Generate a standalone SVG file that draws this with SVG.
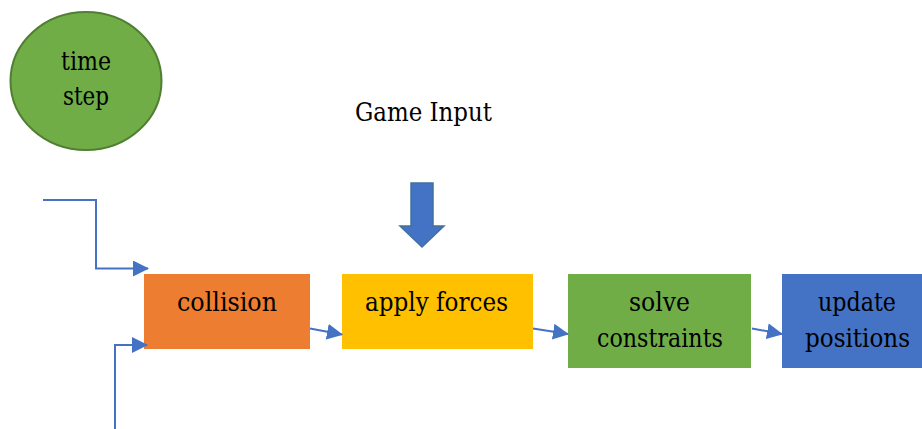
<svg xmlns="http://www.w3.org/2000/svg" width="922" height="429" viewBox="0 0 922 429">
<style>
text{font-family:'DejaVu Serif',serif;font-size:26px;fill:#000;text-anchor:middle}
.c{fill:none;stroke:#4472C4;stroke-width:2}
</style>
<defs>
<marker id="ah" markerWidth="8" markerHeight="8" refX="7.5" refY="4" orient="auto" markerUnits="strokeWidth">
<path d="M0,0 L8,4 L0,8 z" fill="#4472C4"/>
</marker>
</defs>
<rect width="922" height="429" fill="#fff"/>
<g id="time-step">
<ellipse cx="86" cy="81" rx="75.5" ry="69" fill="#70AD47" stroke="#507E32" stroke-width="2"/>
<text x="86" y="70" textLength="50" lengthAdjust="spacingAndGlyphs">time</text>
<text x="86" y="105" textLength="46" lengthAdjust="spacingAndGlyphs">step</text>
</g>
<g id="game-input">
<text x="423.5" y="121" textLength="137" lengthAdjust="spacingAndGlyphs">Game Input</text>
</g>
<g id="input-arrow">
<path d="M411,183 L433,183 L433,226 L444,226 L422,247 L400,226 L411,226 Z" fill="#4472C4" stroke="#41719C" stroke-width="1.5"/>
</g>
<g id="collision">
<rect x="144" y="274" width="166" height="75" fill="#ED7D31"/>
<text x="227" y="311" textLength="100" lengthAdjust="spacingAndGlyphs">collision</text>
</g>
<g id="apply-forces">
<rect x="342" y="274" width="191" height="75" fill="#FFC000"/>
<text x="436.5" y="311" textLength="143" lengthAdjust="spacingAndGlyphs">apply forces</text>
</g>
<g id="solve-constraints">
<rect x="568" y="274" width="183" height="94" fill="#70AD47"/>
<text x="659.5" y="311" textLength="61" lengthAdjust="spacingAndGlyphs">solve</text>
<text x="660" y="347" textLength="126" lengthAdjust="spacingAndGlyphs">constraints</text>
</g>
<g id="update-positions">
<rect x="782" y="274" width="151" height="94" fill="#4472C4"/>
<text x="857" y="311" textLength="78" lengthAdjust="spacingAndGlyphs">update</text>
<text x="857.5" y="347" textLength="105" lengthAdjust="spacingAndGlyphs">positions</text>
</g>
<g id="connectors">
<polyline class="c" points="43,200 96,200 96,268.5 148,268.5" marker-end="url(#ah)"/>
<polyline class="c" points="115,429 115,345 147,345" marker-end="url(#ah)"/>
<line class="c" x1="310" y1="328.5" x2="342" y2="334.5" marker-end="url(#ah)"/>
<line class="c" x1="533" y1="328.5" x2="568" y2="334" marker-end="url(#ah)"/>
<line class="c" x1="752" y1="328.5" x2="782" y2="334" marker-end="url(#ah)"/>
</g>
</svg>
